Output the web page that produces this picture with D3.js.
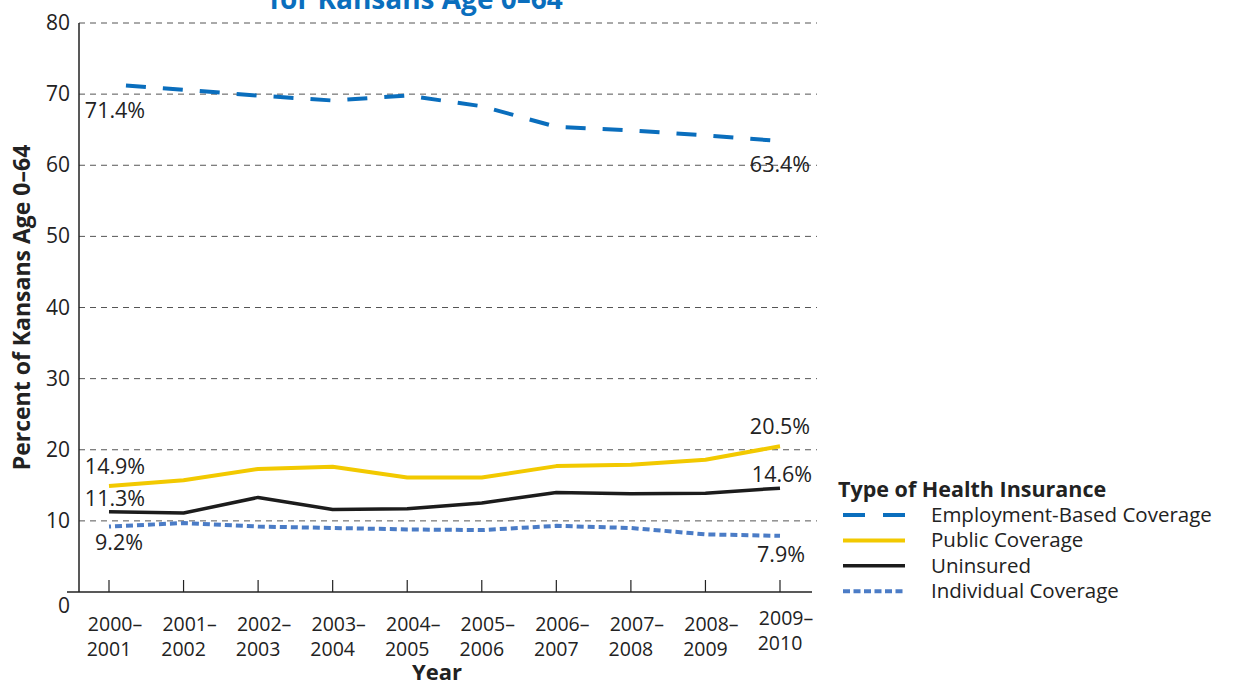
<!DOCTYPE html>
<html>
<head>
<meta charset="utf-8">
<script src="https://cdn.jsdelivr.net/npm/d3@7.9.0/dist/d3.min.js"></script>
<style>
  html, body { margin: 0; padding: 0; background: #fff; }
  svg { display: block; font-family: "Open Sans", Lato, sans-serif; }
</style>
</head>
<body>
<svg id="chart" width="1234" height="685"></svg>
<script>
// data
const years = ['2000–2001', '2001–2002', '2002–2003', '2003–2004', '2004–2005',
  '2005–2006', '2006–2007', '2007–2008', '2008–2009', '2009–2010'];
const employment = [71.4, 70.6, 69.8, 69.1, 69.8, 68.3, 65.4, 64.9, 64.2, 63.4];
const publicCov = [14.9, 15.7, 17.3, 17.6, 16.1, 16.1, 17.7, 17.9, 18.6, 20.5];
const uninsured = [11.3, 11.1, 13.3, 11.6, 11.7, 12.5, 14.0, 13.8, 13.9, 14.6];
const individual = [9.2, 9.7, 9.2, 9.0, 8.8, 8.7, 9.3, 9.0, 8.1, 7.9];
const yTicks = [0, 10, 20, 30, 40, 50, 60, 70, 80];
const seriesNames = ['Employment-Based Coverage', 'Public Coverage', 'Uninsured', 'Individual Coverage'];

const svg = d3.select('#chart');

const x = d3.scalePoint().domain(years).range([109, 780]);
const y = d3.scaleLinear().domain([0, 80]).range([592, 23]);

const series = [
  { name: seriesNames[0], values: employment, color: '#0a6ebd', width: 4, dash: '20,17' },
  { name: seriesNames[1], values: publicCov, color: '#f2c900', width: 4, dash: null },
  { name: seriesNames[2], values: uninsured, color: '#1c1c1c', width: 3.5, dash: null },
  { name: seriesNames[3], values: individual, color: '#4b7cc6', width: 4, dash: '7,4' }
];

// title (first line falls off the top of the frame)
svg.append('text')
  .attr('x', 416).attr('y', 9)
  .attr('text-anchor', 'middle')
  .attr('font-size', 28).attr('font-weight', 'bold')
  .attr('fill', '#0a6ebd')
  .text('for Kansans Age 0–64');

// gridlines
svg.append('g')
  .selectAll('line')
  .data(yTicks.filter(d => d > 0))
  .join('line')
  .attr('x1', 79).attr('x2', 817)
  .attr('y1', d => y(d)).attr('y2', d => y(d))
  .attr('stroke', '#555').attr('stroke-width', 1)
  .attr('stroke-dasharray', '6,5');

// y axis
svg.append('line')
  .attr('x1', 79).attr('x2', 79)
  .attr('y1', y(80)).attr('y2', y(0))
  .attr('stroke', '#222').attr('stroke-width', 1.5);

svg.append('g')
  .selectAll('text')
  .data(yTicks)
  .join('text')
  .attr('x', 70)
  .attr('y', d => d === 0 ? y(d) + 21 : y(d) + 7)
  .attr('text-anchor', 'end')
  .attr('font-size', 21).attr('fill', '#222')
  .text(d => d);

svg.append('text')
  .attr('transform', `translate(30, ${y(40)}) rotate(-90)`)
  .attr('text-anchor', 'middle')
  .attr('font-size', 23).attr('font-weight', 'bold').attr('fill', '#222')
  .text('Percent of Kansans Age 0–64');

// x axis
svg.append('line')
  .attr('x1', 67).attr('x2', 812)
  .attr('y1', y(0)).attr('y2', y(0))
  .attr('stroke', '#222').attr('stroke-width', 1.5);

svg.append('g')
  .selectAll('line')
  .data(years)
  .join('line')
  .attr('x1', d => x(d)).attr('x2', d => x(d))
  .attr('y1', y(0) - 12).attr('y2', y(0))
  .attr('stroke', '#222').attr('stroke-width', 1.2);

const xl = svg.append('g')
  .selectAll('text')
  .data(years)
  .join('text')
  .attr('text-anchor', 'middle')
  .attr('font-size', 19.5).attr('fill', '#222')
  .attr('transform', (d, i) => `translate(${x(d)}, ${i === years.length - 1 ? 625 : 631})`);
xl.append('tspan').attr('x', 6).attr('y', 0).text(d => d.split('–')[0] + '–');
xl.append('tspan').attr('x', 0).attr('y', 24.6).text(d => d.split('–')[1]);

svg.append('text')
  .attr('x', 437).attr('y', 680)
  .attr('text-anchor', 'middle')
  .attr('font-size', 22).attr('font-weight', 'bold').attr('fill', '#222')
  .text('Year');

// lines
const line = d3.line()
  .x((d, i) => x(years[i]))
  .y(d => y(d));

svg.append('g')
  .selectAll('path')
  .data(series)
  .join('path')
  .attr('d', d => line(d.values))
  .attr('fill', 'none')
  .attr('stroke', d => d.color)
  .attr('stroke-width', d => d.width)
  .attr('stroke-dasharray', d => d.dash)
  .attr('stroke-dashoffset', d => d.dash ? -17 : 0)
  .attr('stroke-linejoin', 'round');

// end value labels
const fmt = v => v.toFixed(1) + '%';
const last = years.length - 1;
const labels = [
  { v: employment[0], i: 0, dx: 6, dy: 34 },
  { v: employment[last], i: last, dx: 0, dy: 31 },
  { v: publicCov[0], i: 0, dx: 6, dy: -12 },
  { v: publicCov[last], i: last, dx: 0, dy: -12 },
  { v: uninsured[0], i: 0, dx: 6, dy: -6 },
  { v: uninsured[last], i: last, dx: 2, dy: -6 },
  { v: individual[0], i: 0, dx: 10, dy: 23 },
  { v: individual[last], i: last, dx: 1, dy: 26 }
];
svg.append('g')
  .selectAll('text')
  .data(labels)
  .join('text')
  .attr('x', d => x(years[d.i]) + d.dx)
  .attr('y', d => y(d.v) + d.dy)
  .attr('text-anchor', 'middle')
  .attr('font-size', 21.5).attr('fill', '#222')
  .text(d => fmt(d.v));

// legend
const legend = svg.append('g').attr('transform', 'translate(838, 497)');
legend.append('text')
  .attr('x', 0).attr('y', 0)
  .attr('font-size', 21.5).attr('font-weight', 'bold').attr('fill', '#222')
  .text('Type of Health Insurance');
const rows = legend.selectAll('g.row')
  .data(series)
  .join('g')
  .attr('class', 'row')
  .attr('transform', (d, i) => `translate(0, ${18 + i * 25.4})`);
rows.append('line')
  .attr('x1', 5).attr('x2', 67)
  .attr('stroke', d => d.color)
  .attr('stroke-width', d => d.width)
  .attr('stroke-dasharray', d => d.dash === '20,17' ? '22,18' : (d.dash ? '7,3.5' : null));
rows.append('text')
  .attr('x', 93).attr('y', 7)
  .attr('font-size', 20.5).attr('fill', '#222')
  .text(d => d.name);
</script>
</body>
</html>
